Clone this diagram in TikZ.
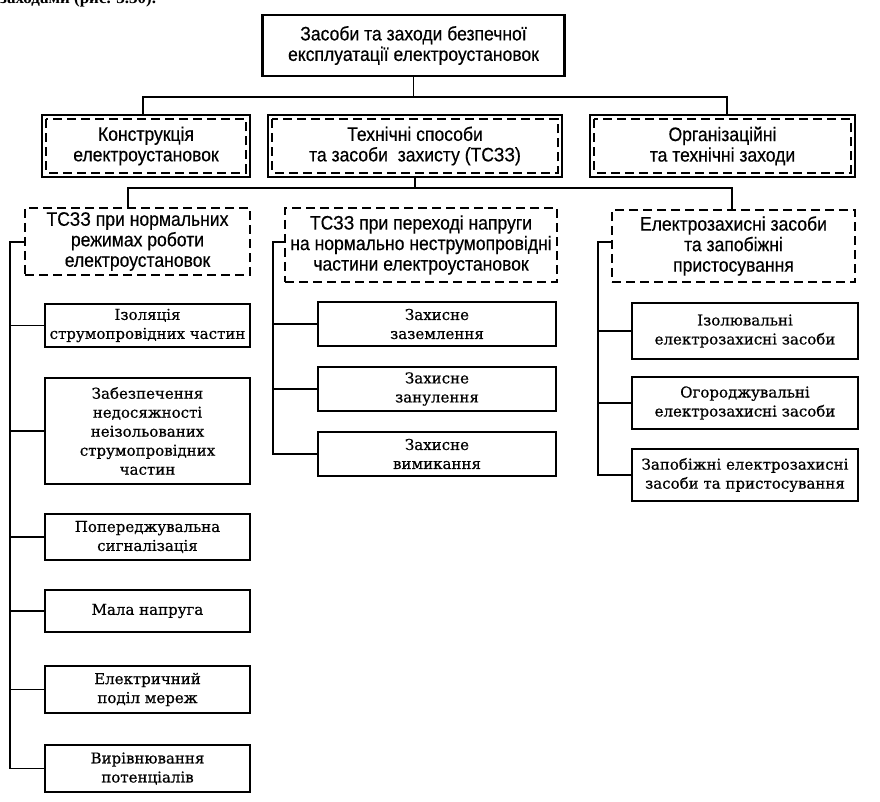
\documentclass[tikz,border=0pt]{standalone}
\usepackage{fontspec}
\newfontfamily\hfont[FakeStretch=0.9,FakeBold=0.4]{Liberation Sans}
\newfontfamily\bfont[FakeBold=0.6]{DejaVu Serif}
\newfontfamily\cfont{Liberation Serif}
\begin{document}
\begin{tikzpicture}[x=1pt,y=-1pt,
  ln/.style={line width=1.5pt},
  dsh/.style={line width=1.8pt, dash pattern=on 9pt off 5pt},
  hf/.style={font=\hfont\fontsize{19.5}{20.5}\selectfont},
  topbox/.style={draw, line width=2.6pt, align=center, inner sep=0pt, hf},
  solidbox/.style={draw, line width=1.4pt, align=center, inner sep=0pt, hf},
  dashbox/.style={draw, dsh, align=center, inner sep=0pt, hf},
  leaf/.style={draw, line width=1.5pt, align=center, inner sep=0pt, font=\bfont\fontsize{15}{19}\selectfont}
]
\useasboundingbox (0,0) rectangle (880,802);
\fill[white] (0,0) rectangle (880,802);
\begin{scope}
\clip (0,0) rectangle (880,802);
\node[anchor=base west, inner sep=0pt, font=\cfont\bfseries\fontsize{17}{20}\selectfont] (cap) at (0,3.5) {заходами (рис. 3.30).};
\end{scope}

% top
\node[topbox, minimum width=302, minimum height=61] (top) at (413.5,45.5) {Засоби та заходи безпечної\\експлуатації електроустановок};

% row 2
\node[solidbox, minimum width=208, minimum height=62] (k) at (146,146) {Конструкція\\електроустановок};
\node[solidbox, minimum width=294, minimum height=62] (t) at (415,146) {Технічні способи\\та засоби\ \ захисту (ТСЗЗ)};
\node[solidbox, minimum width=265, minimum height=62] (o) at (722.5,146) {Організаційні\\та технічні заходи};
\foreach \n in {k,t,o}
  \draw[dsh] ([shift={(5,5)}]\n.north west) rectangle ([shift={(-5,-5)}]\n.south east);

\coordinate (b1) at (0,97);
\draw[ln] (top.south) -- (top.south |- b1);
\draw[ln] (k.north -| 143,0) -- (143,97) -- (727,97) -- (o.north -| 727,0);

% row 3
\node[dashbox, minimum width=225, minimum height=67] (A) at (137.5,241.5) {ТСЗЗ при нормальних\\режимах роботи\\електроустановок};
\node[dashbox, minimum width=272, minimum height=74] (B) at (421,245) {ТСЗЗ при переході напруги\\на нормально неструмопровідні\\частини електроустановок};
\node[dashbox, minimum width=243, minimum height=72] (C) at (733.5,246) {Електрозахисні засоби\\та запобіжні\\пристосування};

\coordinate (b2) at (0,188);
\draw[ln] (t.south) -- (t.south |- b2);
\draw[ln] (A.north -| 128,0) -- (128,188) -- (732,188) -- (C.north -| 732,0);

% A children
\node[leaf, minimum width=205, minimum height=43] (a1) at (147.5,325.5) {Ізоляція\\струмопровідних частин};
\node[leaf, minimum width=205, minimum height=106] (a2) at (147.5,431) {Забезпечення\\недосяжності\\неізольованих\\струмопровідних\\частин};
\node[leaf, minimum width=205, minimum height=46] (a3) at (147.5,537) {Попереджувальна\\сигналізація};
\node[leaf, minimum width=205, minimum height=42] (a4) at (147.5,611) {Мала напруга};
\node[leaf, minimum width=205, minimum height=47] (a5) at (147.5,689.5) {Електричний\\поділ мереж};
\node[leaf, minimum width=205, minimum height=47] (a6) at (147.5,768.5) {Вирівнювання\\потенціалів};

\coordinate (ra) at (10,0);
\draw[ln] (A.west |- 0,242) -- (10,242) -- (ra |- a6.west) -- (a6.west);
\foreach \c in {a1,a2,a3,a4,a5}
  \draw[ln] (ra |- \c.west) -- (\c.west);

% B children
\node[leaf, minimum width=238, minimum height=44] (b1n) at (437,324) {Захисне\\заземлення};
\node[leaf, minimum width=238, minimum height=44] (b2n) at (437,389) {Захисне\\занулення};
\node[leaf, minimum width=238, minimum height=44] (b3n) at (437,454) {Захисне\\вимикання};

\coordinate (rb) at (273,0);
\draw[ln] (B.west |- 0,242) -- (273,242) -- (rb |- b3n.west) -- (b3n.west);
\foreach \c in {b1n,b2n}
  \draw[ln] (rb |- \c.west) -- (\c.west);

% C children
\node[leaf, minimum width=226, minimum height=56] (c1) at (745,331) {Ізолювальні\\електрозахисні засоби};
\node[leaf, minimum width=226, minimum height=52] (c2) at (745,403) {Огороджувальні\\електрозахисні засоби};
\node[leaf, minimum width=226, minimum height=52] (c3) at (745,475) {Запобіжні електрозахисні\\засоби та пристосування};

\coordinate (rc) at (598,0);
\draw[ln] (C.west |- 0,242) -- (598,242) -- (rc |- c3.west) -- (c3.west);
\foreach \c in {c1,c2}
  \draw[ln] (rc |- \c.west) -- (\c.west);
\end{tikzpicture}
\end{document}
